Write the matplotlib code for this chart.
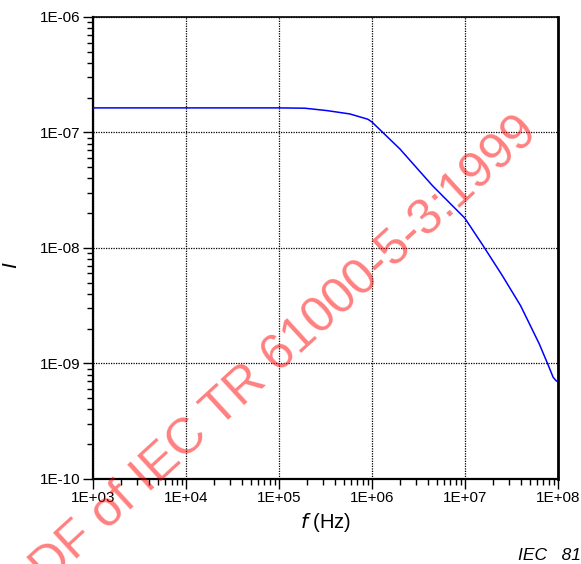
import numpy as np
import matplotlib
matplotlib.use("Agg")
import matplotlib.pyplot as plt
from matplotlib.ticker import LogLocator, FuncFormatter, NullFormatter

plt.rcParams['font.family'] = ['Liberation Sans', 'DejaVu Sans']

# --- Data (frequency in Hz, current I) ---
freq = [1e3, 1e4, 1e5, 1.9e5, 3.28e5, 5.8e5, 9.06e5, 1.0e6, 2.0e6, 4.47e6, 1.0e7,
        1.585e7, 2.51e7, 3.98e7, 6.31e7, 7.94e7, 8.91e7, 9.55e7, 1.0e8]
current = [1.63e-7, 1.63e-7, 1.63e-7, 1.62e-7, 1.545e-7, 1.445e-7, 1.30e-7, 1.233e-7,
           7.2e-8, 3.47e-8, 1.81e-8, 1.035e-8, 5.82e-9, 3.16e-9, 1.48e-9, 9.55e-10,
           7.59e-10, 7.1e-10, 6.92e-10]

x_ticks = [1e3, 1e4, 1e5, 1e6, 1e7, 1e8]
y_ticks = [1e-10, 1e-9, 1e-8, 1e-7, 1e-6]

watermark = "PDF of IEC TR 61000-5-3:1999"

# --- Figure ---
fig = plt.figure(figsize=(5.81, 5.64), dpi=100)
ax = fig.add_axes([0.160, 0.151, 0.800, 0.819])

ax.plot(freq, current, color='#0000ff', lw=1.1, zorder=3)

ax.set_xscale('log')
ax.set_yscale('log')
ax.set_xlim(1e3, 1e8)
ax.set_ylim(1e-10, 1e-6)
ax.set_xticks(x_ticks)
ax.set_yticks(y_ticks)
ax.xaxis.set_minor_locator(LogLocator(base=10, subs=np.arange(2, 10), numticks=20))
ax.yaxis.set_minor_locator(LogLocator(base=10, subs=np.arange(2, 10), numticks=20))
ax.xaxis.set_minor_formatter(NullFormatter())
ax.yaxis.set_minor_formatter(NullFormatter())

sci = FuncFormatter(lambda v, p: "1E%+03d" % int(round(np.log10(v))))
ax.xaxis.set_major_formatter(sci)
ax.yaxis.set_major_formatter(sci)

ax.tick_params(which='major', direction='out', length=7, width=1, labelsize=11, pad=2)
ax.tick_params(which='minor', direction='out', length=4.5, width=1)
ax.tick_params(top=False, right=False, which='both')

ax.grid(True, which='major', color='black', linestyle=(0, (1, 1)), linewidth=0.9)

for s in ['left', 'bottom']:
    ax.spines[s].set_linewidth(1.6)
for s in ['top', 'right']:
    ax.spines[s].set_linestyle((0, (1, 1)))
    ax.spines[s].set_linewidth(1.2)
ax.spines['right'].set_linewidth(2.0)

ax.set_xlabel(r"$\mathit{f}$ (Hz)", fontsize=14.5, labelpad=4)
ax.set_ylabel("I", fontstyle='italic', fontsize=15)
ax.yaxis.set_label_coords(-0.157, 0.463)

fig.text(518 / 581, 1 - 555 / 564, "IEC   81", fontstyle='italic', fontsize=12.5,
         ha='left', va='center')

# watermark
fig.text(272 / 581, 1 - 362 / 564, watermark, color='red', alpha=0.5, fontsize=36,
         rotation=42.5, rotation_mode='anchor', ha='center', va='center', zorder=10)

fig.savefig("out.png", dpi=100)
